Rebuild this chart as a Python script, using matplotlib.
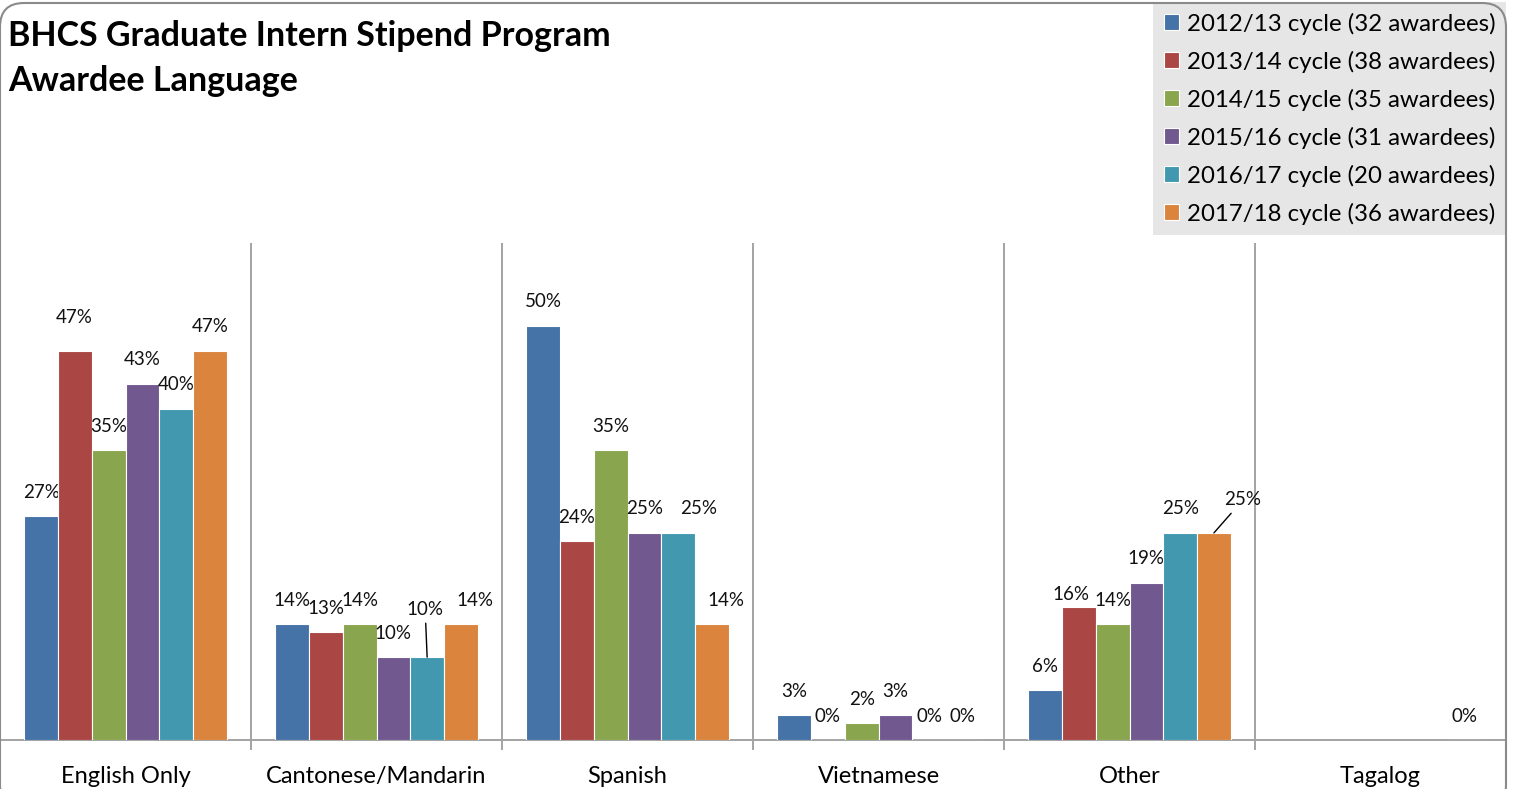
import numpy as np
import matplotlib
matplotlib.use("Agg")
import matplotlib.pyplot as plt
from matplotlib.patches import FancyBboxPatch
from matplotlib.transforms import IdentityTransform

# ---------------- data ----------------
categories = ["English Only", "Cantonese/Mandarin", "Spanish", "Vietnamese", "Other", "Tagalog"]
series_names = [
    "2012/13 cycle (32 awardees)",
    "2013/14 cycle (38 awardees)",
    "2014/15 cycle (35 awardees)",
    "2015/16 cycle (31 awardees)",
    "2016/17 cycle (20 awardees)",
    "2017/18 cycle (36 awardees)",
]
nan = np.nan
cycle_2012 = [27, 14, 50, 3, 6, nan]
cycle_2013 = [47, 13, 24, 0, 16, nan]
cycle_2014 = [35, 14, 35, 2, 14, nan]
cycle_2015 = [43, 10, 25, 3, 19, nan]
cycle_2016 = [40, 10, 25, 0, 25, nan]
cycle_2017 = [47, 14, 14, 0, 25, 0]
series_values = [cycle_2012, cycle_2013, cycle_2014, cycle_2015, cycle_2016, cycle_2017]
title_text = "BHCS Graduate Intern Stipend Program\nAwardee Language"

# ---------------- style ----------------
colors = ["#4572A7", "#AA4643", "#89A54E", "#71588F", "#4198AF", "#DB843D"]
FONT = "Lato"
W, H, DPI = 1514, 789, 100
grid_col = "#a3a3a3"

# label offsets in pixels (dx, dy) for (category index, series index); default (0, 24)
label_offsets = {
    (0, 1): (-1, 33),
    (1, 4): (-2, 48),
    (1, 5): (14, 24),
    (2, 4): (20, 24),
    (2, 5): (14, 24),
    (4, 1): (-8, 13),
    (4, 5): (29, 33),
}
leader_lines = {(1, 4), (4, 5)}

fig = plt.figure(figsize=(W / DPI, H / DPI), dpi=DPI)
ax = fig.add_axes([0.0, 1 - 740 / H, 1506 / W, (740 - 243) / H])

x = np.arange(len(categories))
bw = 0.1345
for i, (vals, col, name) in enumerate(zip(series_values, colors, series_names)):
    pos = x + (i - 2.5) * bw
    ax.bar(pos, vals, width=bw, color=col, edgecolor="white", linewidth=0.8,
           label=name, zorder=3)
    for j, v in enumerate(vals):
        if np.isnan(v):
            continue
        dx, dy = label_offsets.get((j, i), (0, 24))
        kw = dict(textcoords="offset pixels", ha="center", va="center",
                  fontsize=13.5, family=FONT, color="#111111")
        if (j, i) in leader_lines:
            kw["arrowprops"] = dict(arrowstyle="-", color="black", lw=1.0,
                                    shrinkA=2, shrinkB=0)
        ax.annotate(f"{v:.0f}%", xy=(pos[j], v), xytext=(dx, dy), **kw)

ax.set_xlim(-0.5, len(categories) - 0.5)
ax.set_ylim(0, 60)
ax.set_yticks([])
ax.set_xticks(x)
ax.set_xticklabels(categories, fontsize=17, family=FONT)
ax.set_xticks(np.arange(0.5, len(categories) - 1, 1.0), minor=True)
ax.tick_params(axis="x", which="major", length=0, pad=19)
ax.tick_params(axis="x", which="minor", length=7, width=1.4, color=grid_col)
ax.grid(axis="x", which="minor", color=grid_col, linewidth=1.4, zorder=0)
for s in ["top", "right", "left"]:
    ax.spines[s].set_visible(False)
ax.spines["bottom"].set_color(grid_col)
ax.spines["bottom"].set_linewidth(1.4)
ax.set_facecolor("none")

# title
fig.text(8 / W, 1 - 20 / H, title_text, ha="left", va="top", fontsize=24.5,
         fontweight="bold", family=FONT, linespacing=1.5, color="black")

# legend
leg = fig.legend(loc="upper right", bbox_to_anchor=(1506 / W, 1 - 2 / H),
                 prop={"family": FONT, "size": 17.3}, frameon=True, fancybox=False,
                 facecolor="#e6e6e6", edgecolor="none", framealpha=1,
                 handlelength=0.65, handleheight=0.65, handletextpad=0.3,
                 labelspacing=0.66, borderpad=0.45, borderaxespad=0)

# chart border (rounded)
border = FancyBboxPatch((0, -20), 1506, H - 3 + 20,
                        boxstyle="round,pad=0,rounding_size=24",
                        transform=IdentityTransform(), facecolor="none",
                        edgecolor="#8a8a8a", linewidth=1.5, zorder=10)
fig.patches.append(border)

fig.savefig("out.png", dpi=DPI)
